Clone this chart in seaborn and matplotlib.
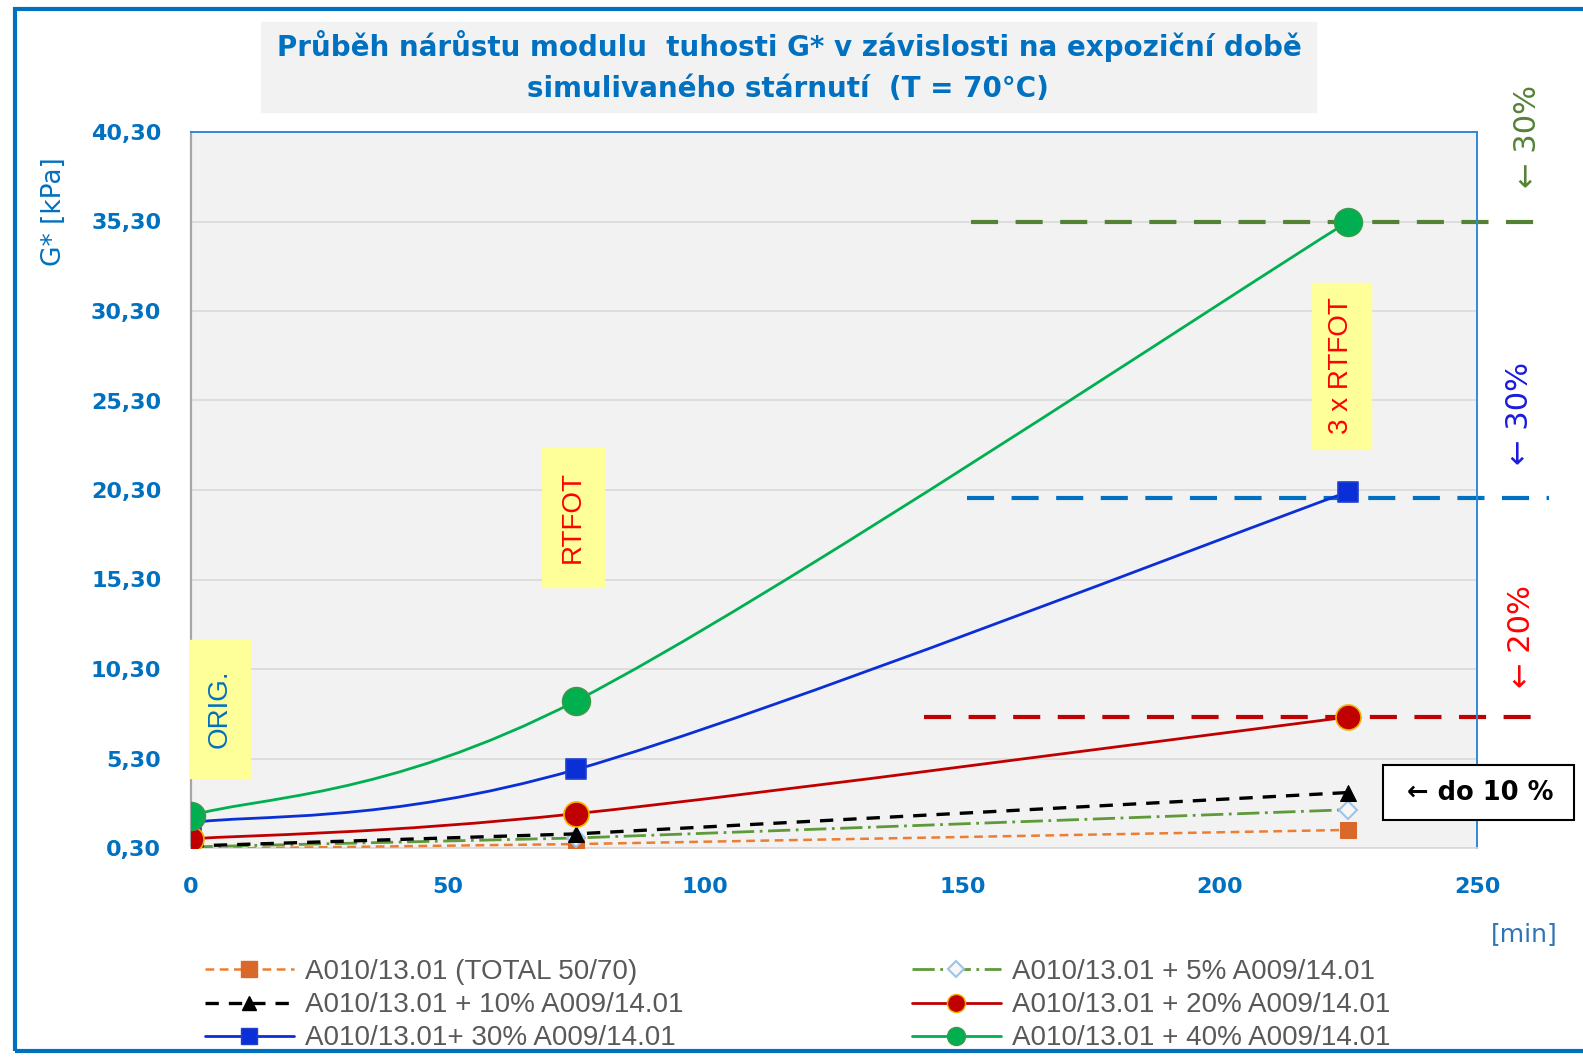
import numpy as np
import matplotlib
matplotlib.use("Agg")
import matplotlib.pyplot as plt
import seaborn as sns
from matplotlib.lines import Line2D
from matplotlib.patches import PathPatch, Rectangle
from matplotlib.path import Path

# ---------------------------------------------------------------------------
# Data
# ---------------------------------------------------------------------------
time_min = [0, 75, 225]
g_total = [0.25, 0.52, 1.31]
g_5pct = [0.36, 0.86, 2.44]
g_10pct = [0.41, 1.09, 3.40]
g_20pct = [0.81, 2.22, 7.62]
g_30pct = [1.71, 4.69, 20.20]
g_40pct = [2.10, 8.53, 35.30]

# reference levels (dashed) and their x extents
ref_levels = [35.30, 19.87, 7.62]
ref_x_start = [151.7, 150.9, 142.5]
ref_x_end = [264.0, 264.0, 262.0]

y_ticks = [0.3, 5.3, 10.3, 15.3, 20.3, 25.3, 30.3, 35.3, 40.3]
x_ticks = [0, 50, 100, 150, 200, 250]

labels = [
    "A010/13.01 (TOTAL 50/70)",
    "A010/13.01 + 10% A009/14.01",
    "A010/13.01+ 30% A009/14.01",
    "A010/13.01 + 5% A009/14.01",
    "A010/13.01 + 20% A009/14.01",
    "A010/13.01 + 40% A009/14.01",
]

BLUE = "#0070C0"
W, H = 1583, 1063


def px(x, y):
    """pixel position (from top-left) -> figure fraction"""
    return x / W, 1 - y / H


def excel_smooth(xs, ys):
    """Bezier path through the points, like Excel's 'smoothed line'."""
    pts = np.column_stack([xs, ys]).astype(float)
    n = len(pts)
    verts, codes = [pts[0]], [Path.MOVETO]
    for i in range(n - 1):
        p0 = pts[i - 1] if i > 0 else pts[i]
        p1, p2 = pts[i], pts[i + 1]
        p3 = pts[i + 2] if i + 2 < n else pts[i + 1]
        verts += [p1 + (p2 - p0) / 6, p2 - (p3 - p1) / 6, p2]
        codes += [Path.CURVE4] * 3
    return Path(verts, codes)


sns.set_theme(style="whitegrid")
plt.rcParams["font.family"] = ["DejaVu Sans"]

fig = plt.figure(figsize=(W / 100, H / 100), dpi=100)
ax = fig.add_axes([190.5 / W, 1 - 848 / H, (1477 - 190.5) / W, (848 - 132) / H])
ax.set_facecolor("#F2F2F2")

# --- straight series --------------------------------------------------------
sns.lineplot(x=time_min, y=g_total, ax=ax, color="#ED7D31", lw=1.8,
             linestyle=(0, (3.5, 2.2)), marker="s", markersize=12,
             markerfacecolor="#D9692A", markeredgecolor="#D9692A", zorder=3)
sns.lineplot(x=time_min, y=g_5pct, ax=ax, color="#5E9A3A", lw=2.0,
             linestyle=(0, (8, 2, 1, 2)), marker="D", markersize=9,
             markerfacecolor="#F7F7F7", markeredgecolor="#9DC3E6",
             markeredgewidth=1.5, zorder=3)
sns.lineplot(x=time_min, y=g_10pct, ax=ax, color="black", lw=2.4,
             linestyle=(0, (4, 3)), marker="^", markersize=11,
             markerfacecolor="black", markeredgecolor="black", zorder=4)

# --- smoothed series --------------------------------------------------------
smooth_series = [
    (g_30pct, "#0A2FD6", "s", 14 ** 2, "#0A2FD6", "#1F3FCF"),
    (g_20pct, "#C00000", "o", 18 ** 2, "#C00000", "#F0B000"),
    (g_40pct, "#00B050", "o", 20 ** 2, "#00B050", "#3A9A48"),
]
for vals, col, mk, size, fc, ec in smooth_series:
    ax.add_patch(PathPatch(excel_smooth(time_min, vals), fill=False,
                           edgecolor=col, lw=2.0, zorder=5))
    sns.scatterplot(x=time_min, y=vals, ax=ax, marker=mk, s=size, color=fc,
                    edgecolor=ec, linewidth=1.2, zorder=6, legend=False)

# --- reference dashed levels -----------------------------------------------
for lvl, x0, x1, col in zip(ref_levels, ref_x_start, ref_x_end,
                            ["#548235", "#0070C0", "#C00000"]):
    ax.plot([x0, x1], [lvl, lvl], color=col, lw=3.0,
            linestyle=(0, (6.5, 4.2)), clip_on=False, zorder=2)

# --- axes styling -----------------------------------------------------------
ax.set_xlim(0, 250)
ax.set_ylim(0.3, 40.3)
ax.set_xticks(x_ticks)
ax.set_yticks(y_ticks)
ax.set_yticklabels([f"{v:.2f}".replace(".", ",") for v in y_ticks])
ax.tick_params(axis="both", length=0, labelsize=16, labelcolor=BLUE)
ax.tick_params(axis="y", pad=21)
ax.tick_params(axis="x", pad=21)
for lab in ax.get_xticklabels() + ax.get_yticklabels():
    lab.set_fontweight("bold")
ax.xaxis.grid(False)
ax.yaxis.grid(True, color="#D9D9D9", lw=1.2)
ax.set_axisbelow(True)
ax.spines["left"].set_color("#A6A6A6")
ax.spines["left"].set_linewidth(1.6)
ax.spines["bottom"].set_color("#D9D9D9")
ax.spines["bottom"].set_linewidth(1.2)
for s in ("top", "right"):
    ax.spines[s].set_color("#2E8BD6")
    ax.spines[s].set_linewidth(1.4)
ax.set_xlabel("")
ax.set_ylabel("")

# --- title ------------------------------------------------------------------
fig.patches.append(Rectangle(px(261, 112), (1316 - 261) / W, 90 / H,
                             transform=fig.transFigure, color="#F2F2F2", zorder=0))
fig.text(*px(789, 46.5), "Průběh nárůstu modulu  tuhosti G* v závislosti na expoziční době",
         ha="center", va="center", fontsize=20, fontweight="bold", color=BLUE)
fig.text(*px(788, 89), "simulivaného stárnutí  (T = 70°C)",
         ha="center", va="center", fontsize=20, fontweight="bold", color=BLUE)

fig.text(*px(53.5, 212), "G* [kPa]", rotation=90, ha="center", va="center",
         fontsize=19, color=BLUE)
fig.text(*px(1524, 934), "[min]", ha="center", va="center",
         fontsize=18, color="#2E75B6")

# --- yellow labels ------------------------------------------------------------
boxes = [
    ((190, 640, 250, 778), "ORIG.", BLUE),
    ((542, 448, 604, 587), "RTFOT", "#FF0000"),
    ((1312, 283, 1371, 449), "3 x RTFOT", "#FF0000"),
]
for (x0, y0, x1, y1), txt, col in boxes:
    fig.patches.append(Rectangle(px(x0, y1), (x1 - x0) / W, (y1 - y0) / H,
                                 transform=fig.transFigure, color="#FFFF99", zorder=7))
    fig.text(*px((x0 + x1) / 2, (y0 + y1) / 2), txt, rotation=90, ha="center",
             va="center", fontsize=20, color=col, zorder=8,
             family=["Liberation Sans", "DejaVu Sans"])

# --- right hand annotations --------------------------------------------------
for (x, y), txt, col in [((1528, 136.5), "← 30%", "#548235"),
                         ((1520, 413.5), "← 30%", "#1A1AE0"),
                         ((1522, 636.5), "← 20%", "#FF0000")]:
    fig.text(*px(x, y), txt, rotation=90, ha="center", va="center", fontsize=22,
             color=col, family=["DejaVu Sans"])

fig.patches.append(Rectangle(px(1383, 820), (1574 - 1383) / W, 55 / H,
                             transform=fig.transFigure, facecolor="white",
                             edgecolor="black", lw=1.5, zorder=7))
fig.text(*px(1480, 792.5), "← do 10 %", ha="center", va="center", fontsize=18.5,
         fontweight="bold", color="black", zorder=8, family=["DejaVu Sans"])

# --- legend ------------------------------------------------------------------
handles = [
    Line2D([], [], color="#ED7D31", lw=1.8, ls=(0, (3.5, 2.2)), marker="s",
           ms=11, mfc="#D9692A", mec="#D9692A"),
    Line2D([], [], color="black", lw=2.4, ls=(0, (4, 3)), marker="^", ms=10,
           mfc="black", mec="black"),
    Line2D([], [], color="#0A2FD6", lw=2.0, marker="s", ms=12, mfc="#0A2FD6",
           mec="#1F3FCF"),
    Line2D([], [], color="#5E9A3A", lw=2.0, ls=(0, (8, 2, 1, 2)), marker="D",
           ms=8, mfc="#F7F7F7", mec="#9DC3E6", mew=1.5),
    Line2D([], [], color="#C00000", lw=2.0, marker="o", ms=13, mfc="#C00000",
           mec="#F0B000"),
    Line2D([], [], color="#00B050", lw=2.0, marker="o", ms=13, mfc="#00B050",
           mec="#3A9A48"),
]
for sl, xpx in [(slice(0, 3), 205), (slice(3, 6), 912)]:
    fig.legend(handles[sl], labels[sl], loc="upper left",
               bbox_to_anchor=px(xpx, 959), frameon=False,
               handlelength=3.2, handletextpad=0.4, labelspacing=0.26,
               borderpad=0, borderaxespad=0, labelcolor="#595959",
               prop={"family": "Liberation Sans", "size": 20})

# --- outer frame ---------------------------------------------------------------
fig.patches.append(Rectangle(px(15, 1051), (1620 - 15) / W, (1051 - 9) / H,
                             transform=fig.transFigure, fill=False,
                             edgecolor=BLUE, lw=3.0, zorder=10))

fig.savefig("out.png", dpi=100)
